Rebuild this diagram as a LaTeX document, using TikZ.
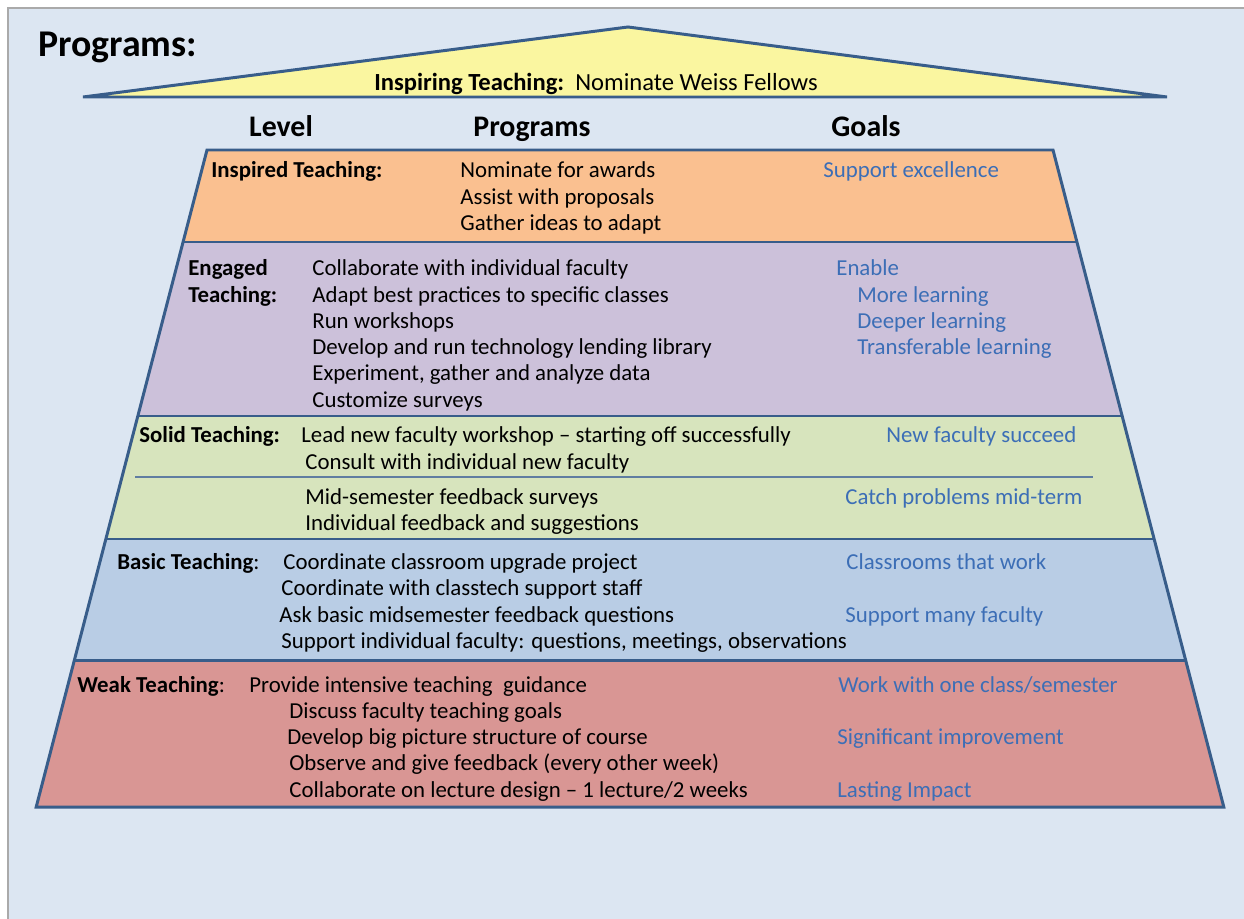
\documentclass[tikz,border=0pt]{standalone}
\usepackage{fontspec}
\setmainfont{Carlito}
\usepackage{tikz}
\definecolor{pagebg}{RGB}{220,230,242}
\definecolor{edgeblue}{RGB}{56,93,138}
\definecolor{roofyellow}{RGB}{250,246,160}
\definecolor{inspiredfill}{RGB}{250,192,144}
\definecolor{engagedfill}{RGB}{204,193,218}
\definecolor{solidfill}{RGB}{215,228,189}
\definecolor{basicfill}{RGB}{185,205,229}
\definecolor{weakfill}{RGB}{217,150,148}
\definecolor{goalblue}{RGB}{60,110,182}
\definecolor{rulegray}{RGB}{170,170,170}
\tikzset{
	txt/.style={anchor=base west, inner sep=0pt, yshift=-0.04cm, font=\fontsize{13}{15}\selectfont},
	lvl/.style={txt, font=\fontsize{13}{15}\selectfont\bfseries},
	goal/.style={txt, text=goalblue},
	head/.style={anchor=base, inner sep=0pt, yshift=-0.04cm, font=\fontsize{17}{20}\selectfont\bfseries},
	layer/.style={draw=edgeblue, line width=1.7pt, line join=miter}
}

\begin{document}
\begin{tikzpicture}[x=0.02cm, y=-0.02cm]
	\useasboundingbox (0,0) rectangle (1244,919);
	\fill[white] (0,0) rectangle (1244,919);
	\fill[pagebg] (8,8) rectangle (1244,919);
	\draw[rulegray, line width=1.2pt] (8,919) -- (8,8) -- (1244,8);

	\node[anchor=base west, inner sep=0pt, font=\fontsize{21.5}{25}\selectfont\bfseries] (ttl) at (38,57) {Programs:};

	\filldraw[layer, fill=roofyellow] (83,97) -- (628,27) -- (1167,97) -- cycle;
	\node[txt, font=\fontsize{14}{16}\selectfont] (roof) at (374,89) {\textbf{Inspiring Teaching:}\ \ Nominate Weiss Fellows};

	\node[head] (hlevel) at (281,135) {Level};
	\node[head] (hprog) at (532,135) {Programs};
	\node[head] (hgoal) at (866,135) {Goals};

	\fill[inspiredfill] (207,150) -- (1053,150) -- (1076.9,242) -- (183.1,242) -- cycle;
	\fill[engagedfill] (183.1,242) -- (1076.9,242) -- (1122.2,416) -- (137.8,416) -- cycle;
	\fill[solidfill] (137.8,416) -- (1122.2,416) -- (1154.1,539) -- (105.9,539) -- cycle;
	\fill[basicfill] (105.9,539) -- (1154.1,539) -- (1185.6,660) -- (74.4,660) -- cycle;
	\fill[weakfill] (74.4,660) -- (1185.6,660) -- (1223.8,807) -- (36.2,807) -- cycle;
	\draw[layer] (207,150) -- (1053,150) -- (1223.8,807) -- (36.2,807) -- cycle;
	\draw[layer] (183.1,242) -- (1076.9,242);
	\draw[layer] (137.8,416) -- (1122.2,416);
	\draw[layer] (105.9,539) -- (1154.1,539);
	\draw[layer] (74.4,660) -- (1185.6,660);
	\draw[edgeblue!80, line width=0.6pt] (135,477) -- (1093,477);

	\node[lvl] (inspL) at (211,176) {Inspired Teaching:};
	\node[txt] (inspP1) at (460,176) {Nominate for awards};
	\node[txt] (inspP2) at (460,202) {Assist with proposals};
	\node[txt] (inspP3) at (460,228) {Gather ideas to adapt};
	\node[goal] (inspG1) at (823,176) {Support excellence};

	\node[lvl] (engL1) at (188,273) {Engaged};
	\node[lvl] (engL2) at (188,300) {Teaching:};
	\node[txt] (engP1) at (312,273) {Collaborate with individual faculty};
	\node[txt] (engP2) at (312,300) {Adapt best practices to specific classes};
	\node[txt] (engP3) at (312,326) {Run workshops};
	\node[txt] (engP4) at (312,352) {Develop and run technology lending library};
	\node[txt] (engP5) at (312,378) {Experiment, gather and analyze data};
	\node[txt] (engP6) at (312,405) {Customize surveys};
	\node[goal] (engG1) at (836,273) {Enable};
	\node[goal] (engG2) at (857,300) {More learning};
	\node[goal] (engG3) at (857,326) {Deeper learning};
	\node[goal] (engG4) at (857,352) {Transferable learning};

	\node[lvl] (solL) at (139,440) {Solid Teaching:};
	\node[txt] (solP1) at (301,440) {Lead new faculty workshop – starting off successfully};
	\node[txt] (solP2) at (305,467) {Consult with individual new faculty};
	\node[txt] (solP3) at (305,502) {Mid-semester feedback surveys};
	\node[txt] (solP4) at (305,528) {Individual feedback and suggestions};
	\node[goal] (solG1) at (886,440) {New faculty succeed};
	\node[goal] (solG2) at (845,502) {Catch problems mid-term};

	\node[txt] (basL) at (117,567) {\textbf{Basic Teaching}:};
	\node[txt] (basP1) at (283,567) {Coordinate classroom upgrade project};
	\node[txt] (basP2) at (281,593) {Coordinate with classtech support staff};
	\node[txt] (basP3) at (279,620) {Ask basic midsemester feedback questions};
	\node[txt] (basP4) at (281,646) {Support individual faculty: questions, meetings, observations};
	\node[goal] (basG1) at (846,567) {Classrooms that work};
	\node[goal] (basG2) at (845,620) {Support many faculty};

	\node[txt] (wkL) at (77,690) {\textbf{Weak Teaching}:};
	\node[txt] (wkP1) at (249,690) {Provide intensive teaching\ \ guidance};
	\node[txt] (wkP2) at (289,716) {Discuss faculty teaching goals};
	\node[txt] (wkP3) at (287,742) {Develop big picture structure of course};
	\node[txt] (wkP4) at (289,768) {Observe and give feedback (every other week)};
	\node[txt] (wkP5) at (289,795) {Collaborate on lecture design – 1 lecture/2 weeks};
	\node[goal] (wkG1) at (838,690) {Work with one class/semester};
	\node[goal] (wkG2) at (837,742) {Significant improvement};
	\node[goal] (wkG3) at (837,795) {Lasting Impact};
\end{tikzpicture}
\end{document}
